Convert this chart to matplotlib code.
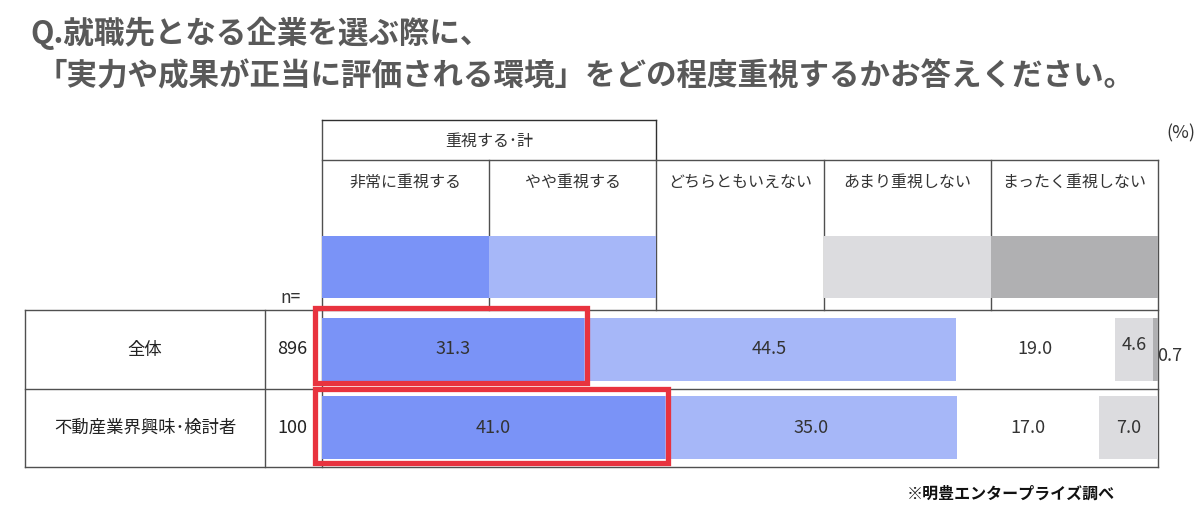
import matplotlib
matplotlib.use('Agg')
import matplotlib.pyplot as plt
from matplotlib.patches import Rectangle
import numpy as np

plt.rcParams['font.family'] = ['Noto Sans CJK JP', 'DejaVu Sans']

# data
categories = ['非常に重視する', 'やや重視する', 'どちらともいえない', 'あまり重視しない', 'まったく重視しない']
groups = ['全体', '不動産業界興味･検討者']
n_values = [896, 100]
values = np.array([
    [31.3, 44.5, 19.0, 4.6, 0.7],
    [41.0, 35.0, 17.0, 7.0, 0.0],
])
colors = ['#7a93f7', '#a6b7f8', '#ffffff', '#dcdcdf', '#b0b0b2']
title1 = 'Q.就職先となる企業を選ぶ際に、'
title2 = '「実力や成果が正当に評価される環境」をどの程度重視するかお答えください。'
source = '※明豊エンタープライズ調べ'

W, H = 1200, 518
fig = plt.figure(figsize=(W / 100, H / 100), dpi=100)

# overlay axes in pixel coordinates
ov = fig.add_axes([0, 0, 1, 1])
ov.set_xlim(0, W)
ov.set_ylim(H, 0)
ov.axis('off')

X0, X1 = 322, 1158
Y_TOP, Y_MID, Y_BOT = 310, 389, 467
def px(p):
    return X0 + (X1 - X0) * p / 100.0

# bar axes, x in %
ax = fig.add_axes([X0 / W, 1 - Y_BOT / H, (X1 - X0) / W, (Y_BOT - Y_TOP) / H])
ax.set_xlim(0, 100)
ax.set_ylim(1.5, -0.5)
ax.axis('off')

lc = '#505050'
lw = 1.0
tc = '#333333'
# table lines
for y in [Y_TOP, Y_MID, Y_BOT]:
    ov.plot([25, X1], [y, y], color=lc, lw=lw)
ov.plot([25, 25], [Y_TOP, Y_BOT], color=lc, lw=lw)
ov.plot([265, 265], [Y_TOP, Y_BOT], color=lc, lw=lw)
ov.plot([X0, X0], [120, Y_BOT], color=lc, lw=lw)
ov.plot([X1, X1], [160, Y_BOT], color=lc, lw=lw)
# header
ov.plot([X0, px(40)], [120, 120], color='#303030', lw=lw)
ov.plot([px(40), px(40)], [120, 160], color='#303030', lw=lw)
ov.plot([X0, X1], [160, 160], color=lc, lw=lw)
ov.text((X0 + px(40)) / 2, 141, '重視する･計', ha='center', va='center', fontsize=11.5, color=tc)
for i, cat in enumerate(categories):
    if i > 0:
        ov.plot([px(20 * i), px(20 * i)], [160, Y_TOP], color=lc, lw=lw)
    ov.text(px(20 * i + 10), 182, cat, ha='center', va='center', fontsize=11.5, color=tc)
    if colors[i] != '#ffffff':
        ov.add_patch(Rectangle((px(20 * i), 236), px(20) - px(0), 62,
                               facecolor=colors[i], edgecolor='none', zorder=3))
ov.text(291, 298, 'n=', ha='center', va='center', fontsize=12.5, color=tc)
ov.text(1181, 133, '(%)', ha='center', va='center', fontsize=13, color=tc)

# row labels
for r, (g, n) in enumerate(zip(groups, n_values)):
    yc = (Y_TOP + Y_MID) / 2 if r == 0 else (Y_MID + Y_BOT) / 2
    ov.text(145, yc, g, ha='center', va='center', fontsize=12.5, color='#222222')
    ov.text(292, yc, str(n), ha='center', va='center', fontsize=13, color='#222222')

# stacked bars
left = np.zeros(len(groups))
for i in range(len(categories)):
    ax.barh(range(len(groups)), values[:, i], left=left, height=0.8,
            color=colors[i], edgecolor='none')
    for r in range(len(groups)):
        v = values[r, i]
        if v <= 0:
            continue
        xc = left[r] + v / 2
        if v < 2:
            ax.text(left[r] + v + 1.3, r + 0.08, f'{v:.1f}', ha='center', va='center',
                    fontsize=13, color=tc, clip_on=False)
        elif v < 5:
            ax.text(xc, r - 0.05, f'{v:.1f}', ha='center', va='center', fontsize=13, color=tc)
        else:
            ax.text(xc, r, f'{v:.1f}', ha='center', va='center', fontsize=13, color=tc)
    left += values[:, i]

# red highlight boxes around first segment
shift = [-0.05, -0.02]
for r in range(len(groups)):
    ax.add_patch(Rectangle((-0.8, r + shift[r] - 0.48), values[r, 0] + 1.2, 0.955,
                           fill=False, edgecolor='#e8333f', lw=3.8, clip_on=False, zorder=5))

# titles
ov.text(30, 33, title1, ha='left', va='center', fontsize=22, fontweight='bold', color='#595959')
ov.text(36, 76, title2, ha='left', va='center', fontsize=22, fontweight='bold', color='#595959')
ov.text(1115, 494, source, ha='right', va='center', fontsize=11.5, fontweight='bold', color='#111111')

fig.savefig('out.png', dpi=100)
